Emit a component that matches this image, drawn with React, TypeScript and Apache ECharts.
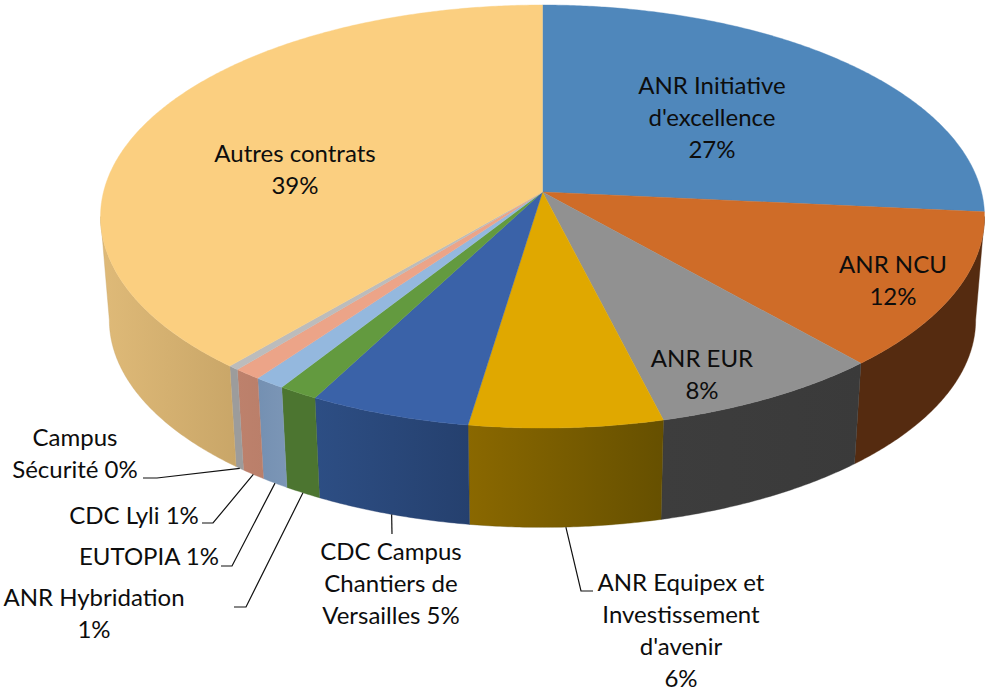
import React, { useEffect, useRef } from "react";
import * as echarts from "echarts";

const sliceNames = [
  "ANR Initiative\nd'excellence",
  "ANR NCU",
  "ANR EUR",
  "ANR Equipex et\nInvestissement\nd'avenir",
  "CDC Campus\nChantiers de\nVersailles",
  "ANR Hybridation",
  "EUTOPIA",
  "CDC Lyli",
  "Campus\nSécurité",
  "Autres contrats",
];
const sliceValues = [26.5, 11.98, 7.59, 6.33, 5.3, 1.3, 1.0, 0.9, 0.35, 38.75];
const percentSeparators = ["\n", "\n", "\n", "\n", " ", "\n", " ", " ", " ", "\n"];
const topColors = ["#4f87bb", "#cf6c28", "#919191", "#e0a800", "#3a62a8", "#639a3f", "#94b8de", "#eca488", "#bcbcbc", "#fbcf80"];
const wallColorsLeft = ["#36608a", "#552b10", "#3d3d3d", "#8a6800", "#2d4e84", "#4c7530", "#7490b2", "#bd816c", "#9c9c9c", "#dfba78"];
const wallColorsRight = ["#36608a", "#552b10", "#3a3a3a", "#665000", "#25406e", "#4c7530", "#7c96b6", "#ba7f6a", "#9c9c9c", "#c9a668"];

// label centres, one per slice
const labelCenters: [number, number][] = [
  [712, 116.5], [893, 279.5], [702, 373.5], [681, 629], [391, 582.5],
  [94, 612.5], [149, 555.5], [134, 514.5], [75, 452.5], [295, 168.5],
];
// leader elbows (outer end, elbow); empty when the label sits on the slice
const leaderElbows: [number, number][][] = [
  [], [], [],
  [[593, 591], [581, 591]],
  [[392, 534]],
  [[234, 607], [246, 607]],
  [[221, 566], [232, 566]],
  [[202, 523], [213, 523]],
  [[143, 478], [157, 478]],
  [],
];

// perspective projection of the pie disc
const CX = 542.5, CY = 192, A = 439, B = 208.7, K = 0.116;
const DEPTH = 104, BOTTOM_SCALE = 0.98;
const FONT = "Lato, Carlito, Calibri, sans-serif";
const FONT_SIZE = 24;
const LINE_HEIGHT = 32;
const FRONT_START = Math.acos(-K);
const FRONT_END = Math.PI * 2 - FRONT_START;

function project(theta: number, bottom: boolean): [number, number] {
  const u = Math.sin(theta), v = -Math.cos(theta);
  const d = 1 - K * v;
  const s = bottom ? BOTTOM_SCALE : 1;
  return [CX + (s * A * u) / d, CY + (bottom ? DEPTH : 0) + (s * B * v) / d];
}

const total = sliceValues.reduce((a, b) => a + b, 0);
const starts: number[] = [];
sliceValues.reduce((acc, v, i) => { starts[i] = acc; return acc + v; }, 0);
const angle = (x: number) => (x / total) * Math.PI * 2;

function arc(a0: number, a1: number, bottom: boolean): [number, number][] {
  const n = Math.max(2, Math.ceil((a1 - a0) / 0.008));
  const pts: [number, number][] = [];
  for (let k = 0; k <= n; k++) pts.push(project(a0 + ((a1 - a0) * k) / n, bottom));
  return pts;
}
const sliceStart = (i: number) => angle(starts[i]);
const sliceEnd = (i: number) => angle(starts[i] + sliceValues[i]);

const seriesData = sliceValues.map((v, i) => ({ name: sliceNames[i], value: v }));

export default function App() {
  const ref = useRef<HTMLDivElement>(null);
  useEffect(() => {
    const chart = echarts.init(ref.current!, undefined, { renderer: "svg" });
    chart.setOption({
      animation: false,
      backgroundColor: "#ffffff",
      series: [
        {
          type: "custom",
          coordinateSystem: "none",
          silent: true,
          z: 1,
          data: seriesData,
          renderItem: (p: any) => {
            const i = p.dataIndex;
            const a0 = Math.max(sliceStart(i), FRONT_START);
            const a1 = Math.min(sliceEnd(i), FRONT_END);
            if (a1 <= a0) return { type: "group", children: [] };
            return {
              type: "polygon",
              shape: { points: [...arc(a0, a1, false), ...arc(a0, a1, true).reverse()] },
              style: {
                fill: {
                  type: "linear", x: 0, y: 0, x2: 1, y2: 0,
                  colorStops: [
                    { offset: 0, color: wallColorsLeft[i] },
                    { offset: 1, color: wallColorsRight[i] },
                  ],
                },
                stroke: wallColorsRight[i],
                lineWidth: 0.4,
              },
            };
          },
        },
        {
          type: "custom",
          coordinateSystem: "none",
          silent: true,
          z: 2,
          data: seriesData,
          renderItem: (p: any) => {
            const i = p.dataIndex;
            return {
              type: "polygon",
              shape: { points: [[CX, CY], ...arc(sliceStart(i), sliceEnd(i), false)] },
              style: { fill: topColors[i], stroke: topColors[i], lineWidth: 0.4 },
            };
          },
        },
        {
          type: "custom",
          coordinateSystem: "none",
          silent: true,
          z: 3,
          data: seriesData,
          renderItem: (p: any) => {
            const i = p.dataIndex;
            const pct = Math.round((sliceValues[i] / total) * 100);
            const children: any[] = [];
            if (leaderElbows[i].length) {
              const mid = (sliceStart(i) + sliceEnd(i)) / 2;
              children.push({
                type: "polyline",
                shape: { points: [...leaderElbows[i], project(mid, true)] },
                style: { fill: "none", stroke: "#111111", lineWidth: 1.2 },
              });
            }
            children.push({
              type: "text",
              style: {
                text: `${sliceNames[i]}${percentSeparators[i]}${pct}%`,
                x: labelCenters[i][0],
                y: labelCenters[i][1],
                align: "center",
                verticalAlign: "middle",
                lineHeight: LINE_HEIGHT,
                fontFamily: FONT,
                fontSize: FONT_SIZE,
                fill: "#0d0d0d",
              },
            });
            return { type: "group", children };
          },
        },
      ],
    });
    return () => chart.dispose();
  }, []);
  return <div ref={ref} style={{ position: "absolute", left: 0, top: 0, width: 985, height: 691 }} />;
}
